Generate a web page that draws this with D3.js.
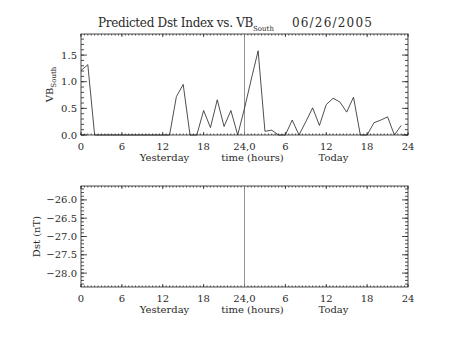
<!DOCTYPE html>
<html>
<head>
<meta charset="utf-8">
<script src="https://cdn.jsdelivr.net/npm/d3@7"></script>
<style>
  html, body { margin: 0; padding: 0; background: #fff; }
  svg { display: block; }
  text { font-family: "DejaVu Serif", serif; fill: #2a2a2a; }
</style>
</head>
<body>
<svg id="chart" width="453" height="340"></svg>
<script>
// Hourly VB_South values: yesterday 00h .. today 23h (hour 0..47)
const vbHours = d3.range(0, 48);
const vbSouth = [
  1.21, 1.32, 0, 0, 0, 0, 0, 0, 0, 0, 0, 0, 0, 0, 0.72, 0.95, 0, 0, 0.46, 0.14, 0.66, 0.16, 0.46, 0,
  0.50, 1.05, 1.58, 0.07, 0.09, 0, 0, 0.28, 0, 0.25, 0.51, 0.18, 0.57, 0.69, 0.62, 0.43, 0.71, 0, 0, 0.23, 0.28, 0.34, 0, 0.18
];
// Predicted Dst (nT): no values available for this day
const dstValues = [];

const xTickValues = [0, 6, 12, 18, 24, 30, 36, 42, 48];
const xTickLabels = ["0", "6", "12", "18", "24,0", "6", "12", "18", "24"];
const vbTicks = [0, 0.5, 1.0, 1.5];
const dstTicks = [-26.0, -26.5, -27.0, -27.5, -28.0];

const svg = d3.select("#chart");

const left = 81, right = 408;
const x = d3.scaleLinear().domain([0, 48]).range([left, right]);
const ink = "#222";

// IDL-style frame: ticks on all four sides, pointing inward
function frame(g, y, top, bottom, yTicks, yMinorStep, yFmt) {
  const w = right - left, h = bottom - top;
  const yMajLen = 6, yMinLen = 3;
  const xMajLen = 3, xMinLen = 1.5;

  g.append("rect").attr("x", left).attr("y", top).attr("width", w).attr("height", h)
    .attr("fill", "none").attr("stroke", ink).attr("stroke-width", 0.8);

  const [d0, d1] = y.domain();
  const lo = Math.min(d0, d1), hi = Math.max(d0, d1);
  const minorY = d3.range(Math.ceil(lo / yMinorStep - 1e-6), Math.floor(hi / yMinorStep + 1e-6) + 1)
    .map(k => k * yMinorStep);

  // y ticks left and right
  [[left, 1], [right, -1]].forEach(([x0, dir]) => {
    g.selectAll(null).data(minorY).enter().append("line")
      .attr("x1", x0).attr("x2", x0 + dir * yMinLen)
      .attr("y1", d => y(d)).attr("y2", d => y(d))
      .attr("stroke", ink).attr("stroke-width", 0.8);
    g.selectAll(null).data(yTicks).enter().append("line")
      .attr("x1", x0).attr("x2", x0 + dir * yMajLen)
      .attr("y1", d => y(d)).attr("y2", d => y(d))
      .attr("stroke", ink).attr("stroke-width", 0.8);
  });

  // x ticks bottom and top
  const minorX = d3.range(0, 48.001, 0.5);
  [[bottom, -1], [top, 1]].forEach(([y0, dir]) => {
    g.selectAll(null).data(minorX).enter().append("line")
      .attr("x1", d => x(d)).attr("x2", d => x(d))
      .attr("y1", y0).attr("y2", y0 + dir * xMinLen)
      .attr("stroke", ink).attr("stroke-width", 0.8);
    g.selectAll(null).data(xTickValues).enter().append("line")
      .attr("x1", d => x(d)).attr("x2", d => x(d))
      .attr("y1", y0).attr("y2", y0 + dir * xMajLen)
      .attr("stroke", ink).attr("stroke-width", 0.8);
  });

  // y tick labels
  g.selectAll(null).data(yTicks).enter().append("text")
    .attr("x", left - 4).attr("y", d => y(d)).attr("dy", "0.35em")
    .attr("text-anchor", "end").attr("font-size", 10)
    .text(d => yFmt(d).replace("-", "\u2212"));

  // x tick labels
  g.selectAll(null).data(xTickValues).enter().append("text")
    .attr("x", d => x(d)).attr("y", bottom + 15)
    .attr("text-anchor", "middle").attr("font-size", 10)
    .text((d, i) => xTickLabels[i]);

  // x axis title
  const cx = (left + right) / 2;
  [["Yesterday", cx - 80], ["time (hours)", cx + 8], ["Today", cx + 89]].forEach(([t, px]) => {
    g.append("text").attr("x", px).attr("y", bottom + 26)
      .attr("text-anchor", "middle").attr("font-size", 10).text(t);
  });

  // divider between yesterday and today
  g.append("line").attr("x1", x(24)).attr("x2", x(24)).attr("y1", top).attr("y2", bottom)
    .attr("stroke", "#777").attr("stroke-width", 0.8);
}

// ---- top panel: VB_South ----
const topT = 34, topB = 135;
const yVB = d3.scaleLinear().domain([0, 1.896]).range([topB, topT]);
const gTop = svg.append("g");
frame(gTop, yVB, topT, topB, vbTicks, 0.1, d3.format(".1f"));

gTop.append("path")
  .datum(vbHours.map((h, i) => [h, vbSouth[i]]))
  .attr("fill", "none").attr("stroke", ink).attr("stroke-width", 0.8)
  .attr("d", d3.line().x(d => x(d[0])).y(d => yVB(d[1])));

// y title with subscript
const vbLabel = gTop.append("text")
  .attr("transform", `translate(53,${(topT + topB) / 2}) rotate(-90)`)
  .attr("text-anchor", "middle").attr("font-size", 10);
vbLabel.append("tspan").text("VB");
vbLabel.append("tspan").attr("font-size", 7).attr("dy", 3).text("South");

// title
const title = svg.append("text").attr("x", 98).attr("y", 27).attr("font-size", 12);
title.append("tspan").attr("letter-spacing", -0.3).text("Predicted Dst Index vs. VB");
title.append("tspan").attr("font-size", 7).attr("dy", 4).text("South");
title.append("tspan").attr("dy", -4).attr("dx", 18).attr("letter-spacing", 1.2).text("06/26/2005");

// ---- bottom panel: Dst ----
const botT = 186, botB = 287;
const yDst = d3.scaleLinear().domain([-28.38, -25.62]).range([botB, botT]);
const gBot = svg.append("g");
frame(gBot, yDst, botT, botB, dstTicks, 0.1, d3.format(".1f"));

gBot.append("path")
  .datum(dstValues)
  .attr("fill", "none").attr("stroke", ink).attr("stroke-width", 0.8)
  .attr("d", d3.line().x(d => x(d[0])).y(d => yDst(d[1])));

gBot.append("text")
  .attr("transform", `translate(40,${(botT + botB) / 2}) rotate(-90)`)
  .attr("text-anchor", "middle").attr("font-size", 10).text("Dst (nT)");
</script>
</body>
</html>
